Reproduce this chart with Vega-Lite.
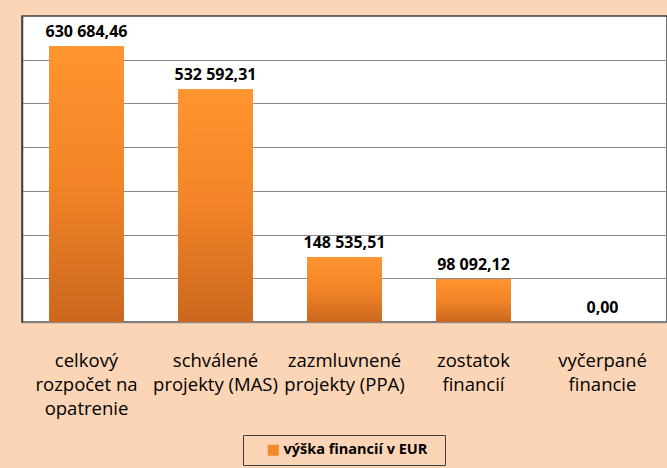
{
  "$schema": "https://vega.github.io/schema/vega-lite/v6.json",
  "autosize": "none",
  "width": 645,
  "height": 306,
  "padding": {"left": 22, "top": 16, "right": 0, "bottom": 146},
  "background": "#FBD5B5",
  "config": {
    "locale": {"number": {"decimal": ",", "thousands": " ", "grouping": [3], "currency": ["", " €"]}},
    "view": {"fill": "#FFFFFF", "stroke": "#404040", "strokeWidth": 1.5},
    "font": "Open Sans"
  },
  "data": {
    "values": [
      {"kategoria": "celkový rozpočet na opatrenie", "riadky": "celkový|rozpočet na|opatrenie", "suma": 630684.46, "seria": "výška financií v EUR"},
      {"kategoria": "schválené projekty (MAS)", "riadky": "schválené|projekty (MAS)", "suma": 532592.31, "seria": "výška financií v EUR"},
      {"kategoria": "zazmluvnené projekty (PPA)", "riadky": "zazmluvnené|projekty (PPA)", "suma": 148535.51, "seria": "výška financií v EUR"},
      {"kategoria": "zostatok financií", "riadky": "zostatok|financií", "suma": 98092.12, "seria": "výška financií v EUR"},
      {"kategoria": "vyčerpané financie", "riadky": "vyčerpané|financie", "suma": 0, "seria": "výška financií v EUR"}
    ]
  },
  "encoding": {
    "x": {
      "field": "riadky",
      "type": "nominal",
      "sort": null,
      "title": null,
      "scale": {"paddingInner": 0.42, "paddingOuter": 0.21},
      "axis": {
        "labelAngle": 0,
        "labelExpr": "split(datum.label, '|')",
        "labelFont": "Open Sans",
        "labelFontSize": 18.5,
        "labelLineHeight": 24,
        "labelColor": "#000000",
        "labelPadding": 29,
        "labelBaseline": "top",
        "labelLimit": 200,
        "ticks": false,
        "domainColor": "#8A8A8A",
        "domainWidth": 1.5,
        "grid": false
      }
    },
    "y": {
      "field": "suma",
      "type": "quantitative",
      "title": null,
      "scale": {"domain": [0, 700000], "nice": false},
      "axis": {
        "values": [100000, 200000, 300000, 400000, 500000, 600000],
        "labels": false,
        "ticks": false,
        "domain": true,
        "domainColor": "#404040",
        "domainWidth": 1.5,
        "grid": true,
        "gridColor": "#8A8A8A",
        "gridWidth": 1.2
      }
    }
  },
  "layer": [
    {
      "mark": {"type": "bar"},
      "encoding": {
        "color": {
          "field": "seria",
          "type": "nominal",
          "scale": {"range": ["#F28A2C"]},
          "legend": {
            "title": " ",
            "titleOrient": "right",
            "titlePadding": 10,
            "titleFontSize": 14,
            "orient": "none",
            "legendX": 221,
            "legendY": 419,
            "direction": "horizontal",
            "strokeColor": "#404040",
            "fillColor": "#FBD5B5",
            "padding": 8,
            "symbolOffset": 15,
            "symbolType": "square",
            "symbolSize": 121,
            "symbolStrokeWidth": 0,
            "labelFont": "Open Sans",
            "labelFontSize": 14.5,
            "labelFontWeight": "bold",
            "labelColor": "#000000",
            "labelOffset": 3,
            "labelLimit": 300
          }
        }
      }
    },
    {
      "mark": {
        "type": "bar",
        "color": {"gradient": "linear", "x1": 0, "y1": 0, "x2": 0, "y2": 1,
          "stops": [{"offset": 0, "color": "#FF9530"}, {"offset": 0.5, "color": "#F28427"}, {"offset": 1, "color": "#CB671E"}]}
      }
    },
    {
      "mark": {"type": "text", "baseline": "alphabetic", "dy": -9, "font": "Open Sans", "fontSize": 16, "fontWeight": "bold", "color": "#000000"},
      "encoding": {
        "text": {"field": "suma", "type": "quantitative", "format": ",.2f"}
      }
    }
  ]
}
